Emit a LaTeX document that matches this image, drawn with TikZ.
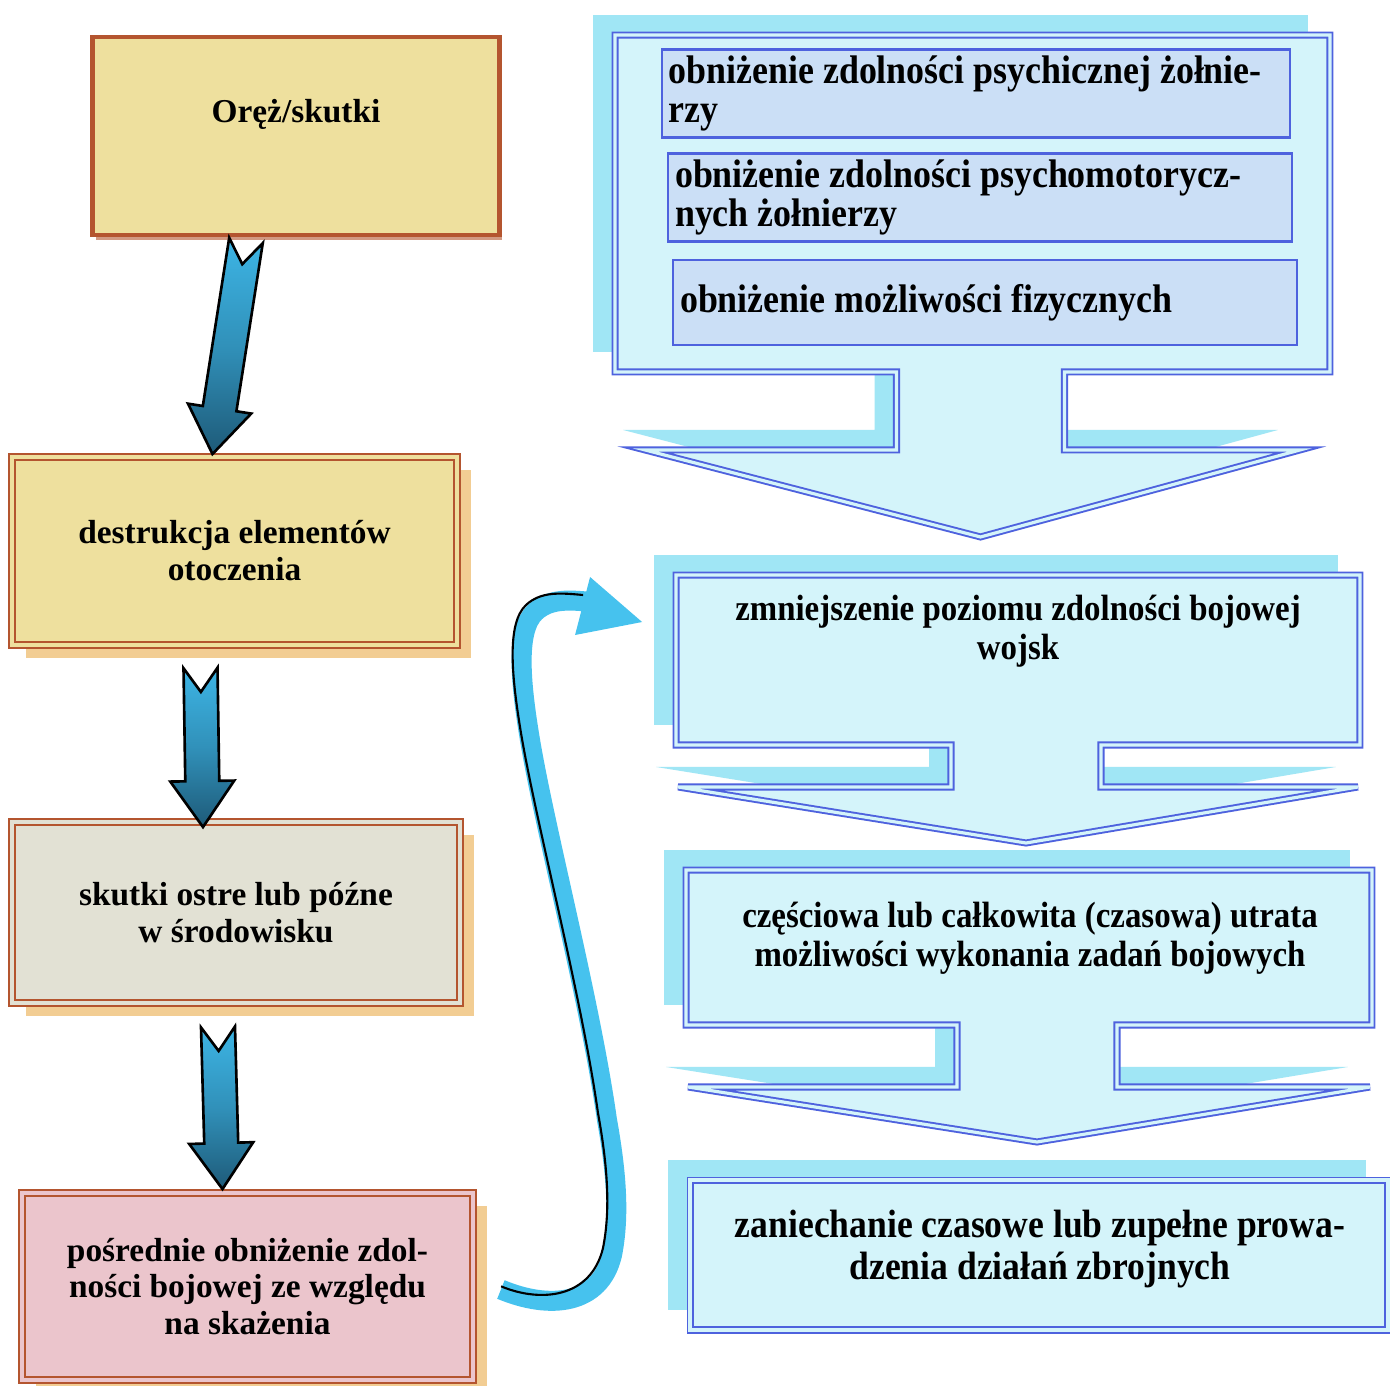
\documentclass[tikz,border=0pt]{standalone}
\usepackage{fontspec}
\setmainfont{Liberation Serif}
\newfontfamily\narrowserif[FakeStretch=0.9]{Liberation Serif}
\usetikzlibrary{calc,shadows}

\definecolor{brownline}{HTML}{B4552F}
\definecolor{parchment}{HTML}{EEE09E}
\definecolor{greycloth}{HTML}{E2E1D4}
\definecolor{rosepaper}{HTML}{EBC5CC}
\definecolor{tanshadow}{HTML}{F2CD93}
\definecolor{arrowlight}{HTML}{3DB5E5}
\definecolor{arrowdark}{HTML}{1E5A78}
\definecolor{panelblue}{HTML}{4E62DE}
\definecolor{panelfill}{HTML}{D4F4FA}
\definecolor{panelshade}{HTML}{A0E6F5}
\definecolor{innerfill}{HTML}{CBDFF6}
\definecolor{loopcyan}{HTML}{46C2EE}

\tikzset{
  oldbox/.style={draw=brownline, align=center, font=\fontsize{19}{21}\selectfont\bfseries},
  twoline/.style={line width=1.1pt, double distance=2.2pt},
  tanshade/.style={drop shadow={shadow xshift=0.28cm, shadow yshift=-0.26cm, fill=tanshadow, opacity=1}},
  fatarrow/.style={draw=black, line width=1.5pt, line join=miter,
    top color=arrowlight, bottom color=arrowdark, middle color=arrowlight!60!arrowdark},
  stagebox/.style={inner sep=0pt, outer sep=0pt},
  panel/.style={draw=panelblue, line width=1.1pt, double=panelfill, double distance=1.8pt,
    fill=panelfill, line join=miter},
  panelshadow/.style={fill=panelshade},
  innerbox/.style={draw=panelblue, line width=1.6pt, fill=innerfill, align=flush left, inner xsep=2pt,
    font=\narrowserif\fontsize{22.7}{22.7}\selectfont\bfseries},
  paneltext/.style={align=center, font=\narrowserif\fontsize{20.8}{22}\selectfont\bfseries},
  backline/.style={draw=loopcyan, line width=0.4cm},
  backedge/.style={draw=black, line width=1.2pt, shorten <=0.2cm}
}

% fat notched arrow: #1 tail centre, #2 tip
\newcommand{\fatarrow}[2]{%
  \coordinate (fa) at #1; \coordinate (fb) at #2;
  \coordinate (fh) at ($(fb)!0.92cm!(fa)$);
  \path[fatarrow] ($(fa)!0.34cm!90:(fb)$) -- ($(fa)!0.48cm!(fb)$) -- ($(fa)!0.34cm!-90:(fb)$)
    -- ($(fh)!0.34cm!-90:(fb)$) -- ($(fh)!0.64cm!-90:(fb)$) -- (fb)
    -- ($(fh)!0.64cm!90:(fb)$) -- ($(fh)!0.34cm!90:(fb)$) -- cycle;
}

% box with a down arrow: #1 node, #2 shaft half width, #3 wing drop, #4 tip drop, #5 wing inset
\newcommand{\arrowpanel}[5]{%
  \coordinate (pm) at ($(#1.south)+(8,0)$);
  \foreach \look/\dx/\dy in {panelshadow/-22/-20, panel/0/0}
    \path[\look, transform canvas={shift={(\dx,\dy)}}] (#1.north west) -- (#1.north east) -- (#1.south east)
      -- ($(pm)+(#2,0)$) -- ($(pm)+(#2,#3)$) -- ($(#1.south east)+(-#5,#3)$) -- ($(pm)+(0,#4)$)
      -- ($(#1.south west)+(#5,#3)$) -- ($(pm)+(-#2,#3)$) -- ($(pm)+(-#2,0)$) -- (#1.south west) -- cycle;
}

\newcommand{\backpath}{(cs) .. controls (550,1310) and (600,1305) .. (612,1255)
  .. controls (620,1215) and (616,1170) .. (607,1120)
  .. controls (590,1000) and (545,830) .. (530,740)
  .. controls (520,680) and (516,630) .. (535,612)
  .. controls (550,598) and (570,600) .. ($(ce)+(-50,-20)$)}

\begin{document}
\begin{tikzpicture}[x=0.02cm, y=-0.02cm]
\fill[white] (0,0) rectangle (1390,1386);
\useasboundingbox (0,0) rectangle (1390,1386);

% left column
\node[oldbox, line width=2.8pt, fill=parchment, minimum width=8.14cm, minimum height=3.96cm, text depth=1cm,
  drop shadow={shadow xshift=0.06cm, shadow yshift=-0.1cm, fill=brownline, opacity=0.6}] (orez) at (296,136) {Oręż/skutki};
\node[oldbox, twoline, tanshade, double=parchment, fill=parchment, minimum width=8.9cm, minimum height=3.76cm] (destr) at (234.5,551) {destrukcja elementów\\otoczenia};
\node[oldbox, twoline, tanshade, double=greycloth, fill=greycloth, minimum width=8.96cm, minimum height=3.62cm] (skutki) at (236,912.5) {skutki ostre lub późne\\w środowisku};
\node[oldbox, twoline, tanshade, double=rosepaper, fill=rosepaper, minimum width=9.02cm, minimum height=3.74cm] (posr) at (247.5,1286.5) {pośrednie obniżenie zdol-\\ności bojowej ze względu\\na skażenia};

\fatarrow{($(orez.south)+(-50,3)$)}{($(destr.north)+(-22,-2)$)}
\fatarrow{($(destr.south)+(-34,22)$)}{($(skutki.north)+(-33,6)$)}
\fatarrow{($(skutki.south)+(-18,23)$)}{($(posr.north)+(-25,-3)$)}

% right column
\node[stagebox, minimum width=14.3cm, minimum height=6.74cm] (stage1) at (972.5,203.5) {};
\node[stagebox, minimum width=13.68cm, minimum height=3.4cm] (stage2) at (1018,660) {};
\node[stagebox, minimum width=13.72cm, minimum height=3.1cm] (stage3) at (1029,947.5) {};
\node[stagebox, minimum width=13.96cm, minimum height=3cm] (stage4) at (1039,1255) {};
\arrowpanel{stage1}{84}{78}{165}{30}
\arrowpanel{stage2}{75}{42}{98}{2}
\arrowpanel{stage3}{80}{62}{117}{2}
\foreach \look/\dx/\dy in {panelshadow/-22/-20, panel/0/0}
  \path[\look, transform canvas={shift={(\dx,\dy)}}] (stage4.north west) rectangle (stage4.south east);

\node[innerbox, minimum width=12.56cm, minimum height=1.66cm, text width=12.3cm] (psych) at (976,93.5) {obniżenie zdolności psychicznej żołnie-\\rzy};
\node[innerbox, minimum width=12.48cm, minimum height=1.7cm, text width=12.2cm] (motor) at (980,197.5) {obniżenie zdolności psychomotorycz-\\nych żołnierzy};
\node[innerbox, minimum width=12.48cm, minimum height=1.7cm, text width=12.2cm] (fiz) at (985,302.5) {obniżenie możliwości fizycznych};

\node[paneltext] (bojowa) at (1018,631) {zmniejszenie poziomu zdolności bojowej\\wojsk};
\node[paneltext] (utrata) at (1030,938) {częściowa lub całkowita (czasowa) utrata\\możliwości wykonania zadań bojowych};
\node[paneltext, font=\narrowserif\fontsize{22.5}{24}\selectfont\bfseries] (zaniech) at (1040,1249) {zaniechanie czasowe lub zupełne prowa-\\dzenia działań zbrojnych};

% loop back from the left column to the second stage
\coordinate (cs) at ($(posr.east)+(27,3)$);
\coordinate (ce) at ($(stage2.west)+(-34,-38)$);
\draw[backline] \backpath;
\draw[backedge, transform canvas={shift={(-9,-7)}}] \backpath;
\fill[loopcyan] (ce) -- ($(ce)+(-52,-45)$) -- ($(ce)+(-67,13)$) -- cycle;
\end{tikzpicture}
\end{document}
